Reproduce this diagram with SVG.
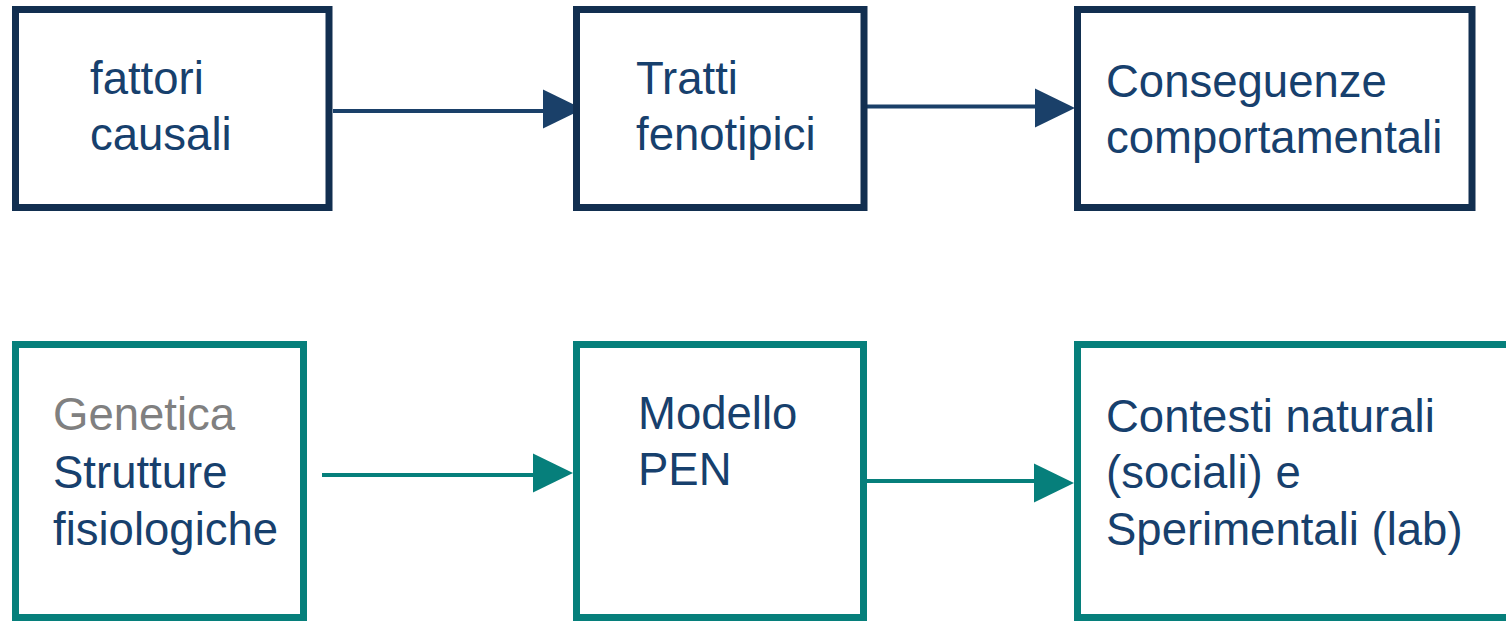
<svg xmlns="http://www.w3.org/2000/svg" width="1506" height="622" viewBox="0 0 1506 622">
<style>
.navy{fill:#ffffff;stroke:#122f50;stroke-width:7}
.teal{fill:#ffffff;stroke:#067f7b;stroke-width:7}
text{font-family:"Liberation Sans",Arial,sans-serif;font-size:45.5px;fill:#17406d}
.grey{fill:#808080}
.cn{stroke:#1a4069;stroke-width:4;fill:none}
.ct{stroke:#067f7b;stroke-width:4;fill:none}
</style>
<rect width="1506" height="622" fill="#ffffff"/>
<g id="connectors">
<line class="cn" x1="333" y1="111" x2="545" y2="111"/>
<polygon points="543,89.5 583,109 543,128.5" fill="#1a4069"/>
<line class="cn" x1="867" y1="106.5" x2="1037" y2="106.5"/>
<polygon points="1035,88.5 1075,108 1035,127.5" fill="#1a4069"/>
<line class="ct" x1="322" y1="475" x2="535" y2="475"/>
<polygon points="533,453.5 573,473 533,492.5" fill="#067f7b"/>
<line class="ct" x1="867" y1="481" x2="1036" y2="481"/>
<polygon points="1034,463.5 1074,483 1034,502.5" fill="#067f7b"/>
</g>
<g id="node-fattori">
<rect class="navy" x="15.5" y="9.5" width="313.5" height="198"/>
<text x="90" y="94">fattori</text>
<text x="90" y="150">causali</text>
</g>
<g id="node-tratti">
<rect class="navy" x="576.5" y="9.5" width="287.5" height="198"/>
<text x="636" y="93.5">Tratti</text>
<text x="636" y="150">fenotipici</text>
</g>
<g id="node-conseguenze">
<rect class="navy" x="1077.5" y="9.5" width="394.5" height="198"/>
<text x="1106" y="97">Conseguenze</text>
<text x="1106" y="153">comportamentali</text>
</g>
<g id="node-genetica">
<rect class="teal" x="15.5" y="344.5" width="288" height="273"/>
<text x="53" y="430" class="grey">Genetica</text>
<text x="53" y="488">Strutture</text>
<text x="53" y="545">fisiologiche</text>
</g>
<g id="node-pen">
<rect class="teal" x="576.5" y="344.5" width="287" height="273"/>
<text x="638" y="428.5">Modello</text>
<text x="638" y="485">PEN</text>
</g>
<g id="node-contesti">
<rect class="teal" x="1077.5" y="344.5" width="440" height="273"/>
<text x="1106" y="431.5">Contesti naturali</text>
<text x="1106" y="488">(sociali) e</text>
<text x="1106" y="545">Sperimentali (lab)</text>
</g>
</svg>
